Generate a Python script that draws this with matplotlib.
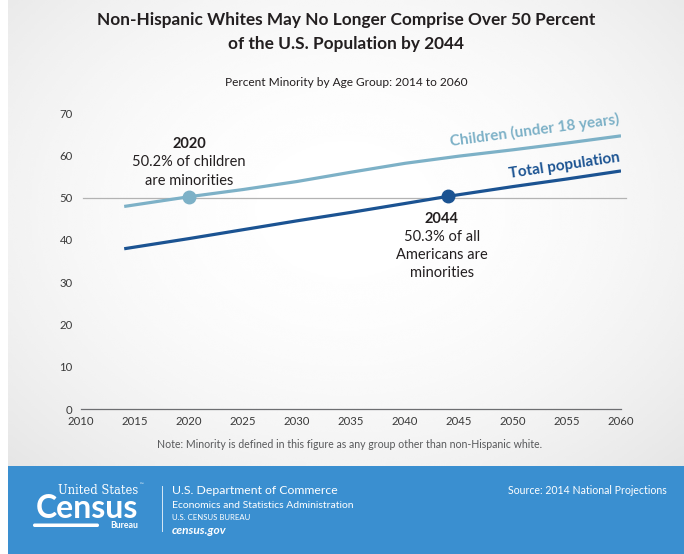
import numpy as np
import matplotlib
matplotlib.use("Agg")
import matplotlib.pyplot as plt
from matplotlib.patches import Rectangle, FancyBboxPatch

# =========================
# Data: percent minority by age group
# =========================

child_years = [2014, 2020, 2025, 2030, 2035, 2040, 2045, 2050, 2055, 2060]
child_pct = [47.9, 50.2, 51.9, 53.8, 56.0, 58.1, 59.8, 61.3, 62.9, 64.6]

total_years = [2014, 2020, 2025, 2030, 2035, 2040, 2044, 2050, 2055, 2060]
total_pct = [37.9, 40.3, 42.4, 44.5, 46.5, 48.6, 50.3, 52.6, 54.4, 56.3]

x_ticks = list(range(2010, 2061, 5))
y_ticks = list(range(0, 71, 10))

child_mark = (2020, 50.2)
total_mark = (2044, 50.3)

LIGHT = "#7db1c7"
DARK = "#1b5392"
FOOT = "#3a8fd0"
TXT = "#231f20"

plt.rcParams["font.family"] = ["Lato", "DejaVu Sans"]

W, H = 684, 554
fig = plt.figure(figsize=(W / 100, H / 100), dpi=100)


def fx(px):
    return px / W


def fy(py):
    return 1 - py / H


# =========================
# Background with soft vignette
# =========================

bg = fig.add_axes([0, 0, 1, 1], zorder=-10)
bg.set_xlim(0, W)
bg.set_ylim(H, 0)
bg.axis("off")
gx, gy = np.meshgrid(np.linspace(-1, 1, 300), np.linspace(-1, 1, 250))
d2 = (gx / 1.0) ** 2 + ((gy + 0.1) / 1.1) ** 2
shade = 1 - 0.05 * d2
bg.imshow(shade, cmap="gray", vmin=0, vmax=1, extent=[8, W, 466, 0],
          aspect="auto", interpolation="bicubic")
bg.add_patch(Rectangle((8, 466), W - 8, H - 466, color=FOOT, lw=0))

# =========================
# Chart
# =========================

ax = fig.add_axes([fx(81), fy(409), (621 - 81) / W, (409 - 113) / H])
ax.set_xlim(2010, 2060)
ax.set_ylim(0, 70)
ax.patch.set_alpha(0)
for s in ax.spines.values():
    s.set_visible(False)

ax.axhline(50, color="#b3b3b3", lw=0.9, xmin=0.004, xmax=1.01, clip_on=False, zorder=1)
ax.axhline(0, color="#6d6e71", lw=0.9, clip_on=False, zorder=1)

ax.plot(child_years, child_pct, color=LIGHT, lw=2.3, solid_capstyle="butt", zorder=3)
ax.plot(total_years, total_pct, color=DARK, lw=2.3, solid_capstyle="butt", zorder=3)
ax.plot(*child_mark, "o", color=LIGHT, ms=9, zorder=4)
ax.plot(*total_mark, "o", color=DARK, ms=9, zorder=4)

ax.set_xticks(x_ticks)
ax.set_yticks(y_ticks)
ax.tick_params(length=0, labelsize=8.2, labelcolor="#3a3a3a")
ax.tick_params(axis="x", pad=5)
ax.tick_params(axis="y", pad=6)

# series labels along the lines
ax.text(2052.0, 61.6, "Children (under 18 years)", color=LIGHT, fontsize=11,
        fontweight="bold", rotation=7.5, ha="center", va="bottom")
ax.text(2054.8, 53.9, "Total population", color=DARK, fontsize=11,
        fontweight="bold", rotation=8.5, ha="center", va="bottom")

# callouts
ax.text(child_mark[0], 62.7, "2020", fontsize=10.5, fontweight="bold", color=TXT,
        ha="center", va="center")
ax.text(child_mark[0], 58.3, "50.2% of children", fontsize=10.5, color=TXT,
        ha="center", va="center")
ax.text(child_mark[0], 54.0, "are minorities", fontsize=10.5, color=TXT,
        ha="center", va="center")

ax.text(total_mark[0] - 0.6, 45.0, "2044", fontsize=10.5, fontweight="bold", color=TXT,
        ha="center", va="center")
ax.text(total_mark[0] - 0.6, 40.7, "50.3% of all", fontsize=10.5, color=TXT,
        ha="center", va="center")
ax.text(total_mark[0] - 0.6, 36.4, "Americans are", fontsize=10.5, color=TXT,
        ha="center", va="center")
ax.text(total_mark[0] - 0.6, 32.1, "minorities", fontsize=10.5, color=TXT,
        ha="center", va="center")

# =========================
# Titles and note
# =========================

fig.text(fx(346), fy(20), "Non-Hispanic Whites May No Longer Comprise Over 50 Percent",
         fontsize=12.4, fontweight="bold", color=TXT, ha="center", va="center")
fig.text(fx(346), fy(44), "of the U.S. Population by 2044",
         fontsize=12.4, fontweight="bold", color=TXT, ha="center", va="center")
fig.text(fx(346), fy(83), "Percent Minority by Age Group: 2014 to 2060",
         fontsize=8.6, color=TXT, ha="center", va="center")
fig.text(fx(350), fy(445),
         "Note: Minority is defined in this figure as any group other than non-Hispanic white.",
         fontsize=7.6, color="#58595b", ha="center", va="center")

# =========================
# Footer
# =========================

fig.text(fx(138), fy(490), "United States", family="DejaVu Serif", fontsize=8.3,
         color="white", ha="right", va="center")
fig.text(fx(140), fy(485), "\u2122", fontsize=3.5, color="white", ha="left", va="center")
fig.text(fx(138), fy(508), "Census", fontsize=23, fontweight="bold", color="white",
         ha="right", va="center")
bg.add_patch(FancyBboxPatch((33, 523.5), 66, 3.5, boxstyle="round,pad=0,rounding_size=1.7",
                            fc="white", ec="none"))
fig.text(fx(138), fy(526), "Bureau", fontsize=6.3, fontweight="bold", color="white",
         ha="right", va="center")
bg.plot([162, 162], [486, 531], color="white", lw=0.7, alpha=0.8)

fig.text(fx(172), fy(491), "U.S. Department of Commerce", fontsize=8.8,
         color="white", ha="left", va="center")
fig.text(fx(172), fy(505), "Economics and Statistics Administration", fontsize=7.5,
         color="white", ha="left", va="center")
fig.text(fx(172), fy(518), "U.S. CENSUS BUREAU", fontsize=5.6,
         color="white", ha="left", va="center")
fig.text(fx(172), fy(531), "census.gov", fontsize=8.6, fontweight="bold", style="italic",
         color="white", ha="left", va="center")
fig.text(fx(667), fy(491), "Source: 2014 National Projections", fontsize=7.6,
         color="white", ha="right", va="center")

fig.savefig("out.png", dpi=100)
